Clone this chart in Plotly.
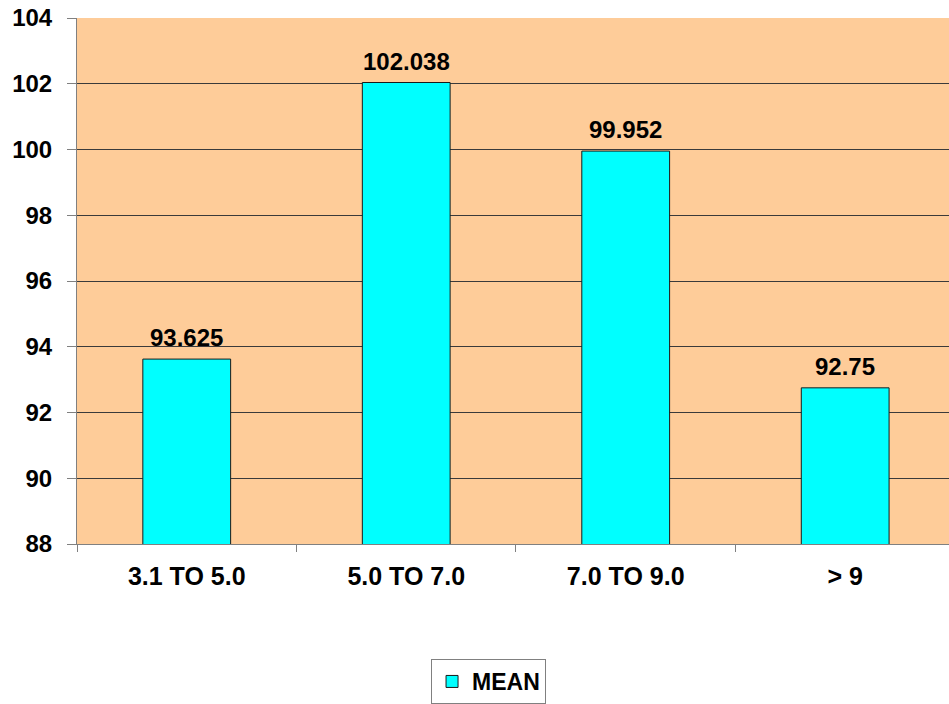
import plotly.graph_objects as go

categories = ["3.1 TO 5.0", "5.0 TO 7.0", "7.0 TO 9.0", "> 9"]
mean_values = [93.625, 102.038, 99.952, 92.75]
y_ticks = [88, 90, 92, 94, 96, 98, 100, 102, 104]

font_family = "Liberation Sans, Arial, sans-serif"

fig = go.Figure()
fig.add_trace(go.Bar(
    x=categories,
    y=mean_values,
    name="<b>MEAN</b>",
    width=0.4,
    marker=dict(color="#00FFFF", line=dict(color="#1a1a1a", width=1)),
))

# value labels above each bar
for cat, val in zip(categories, mean_values):
    fig.add_annotation(
        x=cat, y=val, text=f"<b>{val}</b>",
        showarrow=False, yanchor="bottom", yshift=6,
        font=dict(family=font_family, size=24, color="black"),
    )

fig.update_layout(
    width=949,
    height=704,
    margin=dict(l=77, r=0, t=18, b=157),
    paper_bgcolor="white",
    plot_bgcolor="#FECC99",
    showlegend=True,
    legend=dict(
        x=0.406, y=-0.219, xanchor="left", yanchor="top",
        bordercolor="#808080", borderwidth=1,
        font=dict(family=font_family, size=23, color="black"),
        bgcolor="white",
        itemwidth=30,
    ),
    xaxis=dict(
        type="category",
        range=[-0.5, 3.473],
        tickson="boundaries",
        ticks="outside",
        ticklen=7,
        tickcolor="#808080",
        showline=True,
        linecolor="#808080",
        tickfont=dict(family=font_family, size=25, color="black"),
        tickprefix="<b>", ticksuffix="</b>",
        ticklabelstandoff=10,
        showgrid=False,
    ),
    yaxis=dict(
        range=[88, 104],
        tickvals=y_ticks,
        ticktext=[f"<b>{t}</b>" for t in y_ticks],
        ticks="outside",
        ticklen=9,
        tickcolor="#808080",
        showline=True,
        linecolor="#808080",
        showgrid=True,
        gridcolor="#3a3a3a",
        gridwidth=1,
        zeroline=False,
        ticklabelstandoff=10,
        tickfont=dict(family=font_family, size=24, color="black"),
    ),
)

fig.write_html("out.html")
